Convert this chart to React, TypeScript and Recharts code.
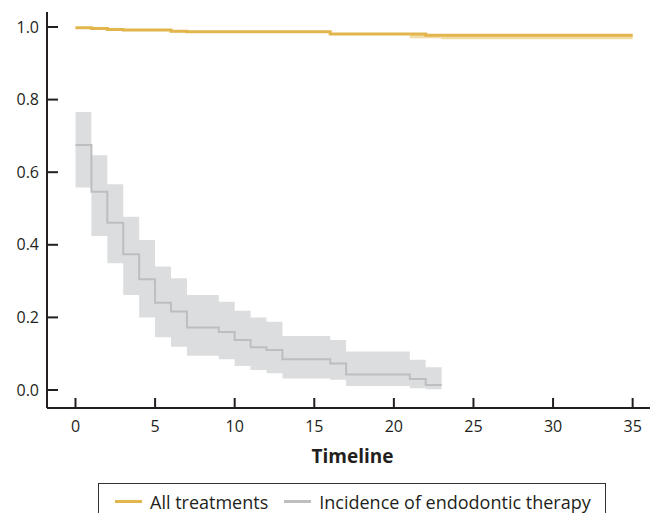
import React from 'react';
import { ComposedChart, Line, Area, XAxis, YAxis, Legend, Label } from 'recharts';

// ---- data ----
const seriesNames = ['All treatments', 'Incidence of endodontic therapy'];

const allTimes = [0, 1, 2, 3, 6, 7, 16, 21, 22, 23, 35];
const allSurv = [0.998, 0.996, 0.993, 0.992, 0.988, 0.987, 0.981, 0.981, 0.977, 0.977, 0.977];
const allLower = [0.996, 0.993, 0.99, 0.989, 0.985, 0.984, 0.978, 0.969, 0.969, 0.966, 0.966];
const allUpper = [0.999, 0.998, 0.995, 0.994, 0.99, 0.989, 0.983, 0.983, 0.98, 0.98, 0.98];

const incTimes = [0, 1, 2, 3, 4, 5, 6, 7, 9, 10, 11, 12, 13, 16, 17, 21, 22, 23];
const incSurv = [0.675, 0.546, 0.461, 0.374, 0.305, 0.24, 0.216, 0.172, 0.16, 0.138, 0.118, 0.11, 0.085, 0.073, 0.043, 0.03, 0.014, 0.014];
const incUpper = [0.766, 0.647, 0.567, 0.477, 0.413, 0.34, 0.308, 0.262, 0.243, 0.218, 0.2, 0.188, 0.149, 0.138, 0.106, 0.083, 0.063, 0.063];
const incLower = [0.558, 0.424, 0.349, 0.262, 0.2, 0.145, 0.119, 0.094, 0.085, 0.066, 0.055, 0.046, 0.032, 0.028, 0.011, 0.005, 0.002, 0.002];

const xTicks = [0, 5, 10, 15, 20, 25, 30, 35];
const yTicks = [0, 0.2, 0.4, 0.6, 0.8, 1.0];
const xLabel = 'Timeline';

const allData = allTimes.map((t, i) => ({ t, km: allSurv[i], ci: [allLower[i], allUpper[i]] }));
const incData = incTimes.map((t, i) => ({ t, km: incSurv[i], ci: [incLower[i], incUpper[i]] }));

// ---- styles ----
const FONT = '"Open Sans", sans-serif';
const AXIS = '#231F20';
const YELLOW = '#E2B64C';
const YELLOW_BAND = '#F1DCA6';
const GRAY = '#BDBEC0';
const GRAY_BAND = '#DCDDDF';

const XTick = (props: any) => {
  const { x, y, payload } = props;
  return (
    <g>
      <line x1={x} x2={x} y1={y} y2={y - 10} stroke={AXIS} strokeWidth={2} />
      <text x={x} y={y + 24} textAnchor="middle" fontSize={16} fontFamily={FONT} fill={AXIS}>
        {payload.value}
      </text>
    </g>
  );
};

const YTick = (props: any) => {
  const { x, y, payload } = props;
  return (
    <g>
      <line x1={x} x2={x + 11} y1={y} y2={y} stroke={AXIS} strokeWidth={2} />
      <text x={x - 8} y={y + 5.7} textAnchor="end" fontSize={16} fontFamily={FONT} fill={AXIS}>
        {Number(payload.value).toFixed(1)}
      </text>
    </g>
  );
};

const LegendBox = () => (
  <div
    style={{
      boxSizing: 'border-box',
      width: 508,
      height: 30,
      border: '1.5px solid #333',
      borderBottom: 'none',
      display: 'flex',
      alignItems: 'center',
      paddingLeft: 16,
      paddingTop: 6,
      fontFamily: FONT,
      fontSize: 18,
      color: AXIS,
      whiteSpace: 'nowrap',
    }}
  >
    <span style={{ display: 'inline-block', width: 27, height: 3, background: YELLOW, marginRight: 8 }} />
    <span style={{ marginRight: 16 }}>{seriesNames[0]}</span>
    <span style={{ display: 'inline-block', width: 27, height: 3, background: GRAY, marginRight: 8 }} />
    <span>{seriesNames[1]}</span>
  </div>
);

export default function App() {
  return (
    <div style={{ position: 'absolute', left: 0, top: 0, width: 650, height: 513, overflow: 'hidden', background: '#fff' }}>
      <ComposedChart width={650} height={513} margin={{ top: 12, right: 0, bottom: 0, left: 0 }}>
        <XAxis
          type="number"
          dataKey="t"
          domain={[-1.79, 36.09]}
          allowDataOverflow
          ticks={xTicks}
          height={105}
          tickSize={0}
          tickMargin={0}
          tickLine={false}
          tick={<XTick />}
          axisLine={{ stroke: AXIS, strokeWidth: 2 }}
        >
          <Label
            content={(p: any) => {
              const vb = p.viewBox || { x: 47, y: 408, width: 603 };
              return (
                <text
                  x={vb.x + vb.width / 2 + 4}
                  y={vb.y + 55}
                  textAnchor="middle"
                  fontSize={19}
                  fontWeight={700}
                  fontFamily={FONT}
                  fill={AXIS}
                >
                  {xLabel}
                </text>
              );
            }}
          />
        </XAxis>
        <YAxis
          type="number"
          domain={[-0.0496, 1.0413]}
          allowDataOverflow
          ticks={yTicks}
          width={47}
          tickSize={0}
          tickMargin={0}
          tickLine={false}
          tick={<YTick />}
          axisLine={{ stroke: AXIS, strokeWidth: 2 }}
        />
        <Area
          data={incData}
          dataKey="ci"
          type="stepAfter"
          fill={GRAY_BAND}
          fillOpacity={1}
          stroke="none"
          isAnimationActive={false}
          legendType="none"
        />
        <Line
          data={incData}
          dataKey="km"
          name={seriesNames[1]}
          type="stepAfter"
          stroke={GRAY}
          strokeWidth={2}
          dot={false}
          activeDot={false}
          isAnimationActive={false}
        />
        <Area
          data={allData}
          dataKey="ci"
          type="stepAfter"
          fill={YELLOW_BAND}
          fillOpacity={1}
          stroke="none"
          isAnimationActive={false}
          legendType="none"
        />
        <Line
          data={allData}
          dataKey="km"
          name={seriesNames[0]}
          type="stepAfter"
          stroke={YELLOW}
          strokeWidth={3}
          dot={false}
          activeDot={false}
          isAnimationActive={false}
        />
        <Legend
          layout="horizontal"
          verticalAlign="middle"
          align="center"
          wrapperStyle={{ left: 98, top: 483, width: 508, height: 30 }}
          content={<LegendBox />}
        />
      </ComposedChart>
    </div>
  );
}
